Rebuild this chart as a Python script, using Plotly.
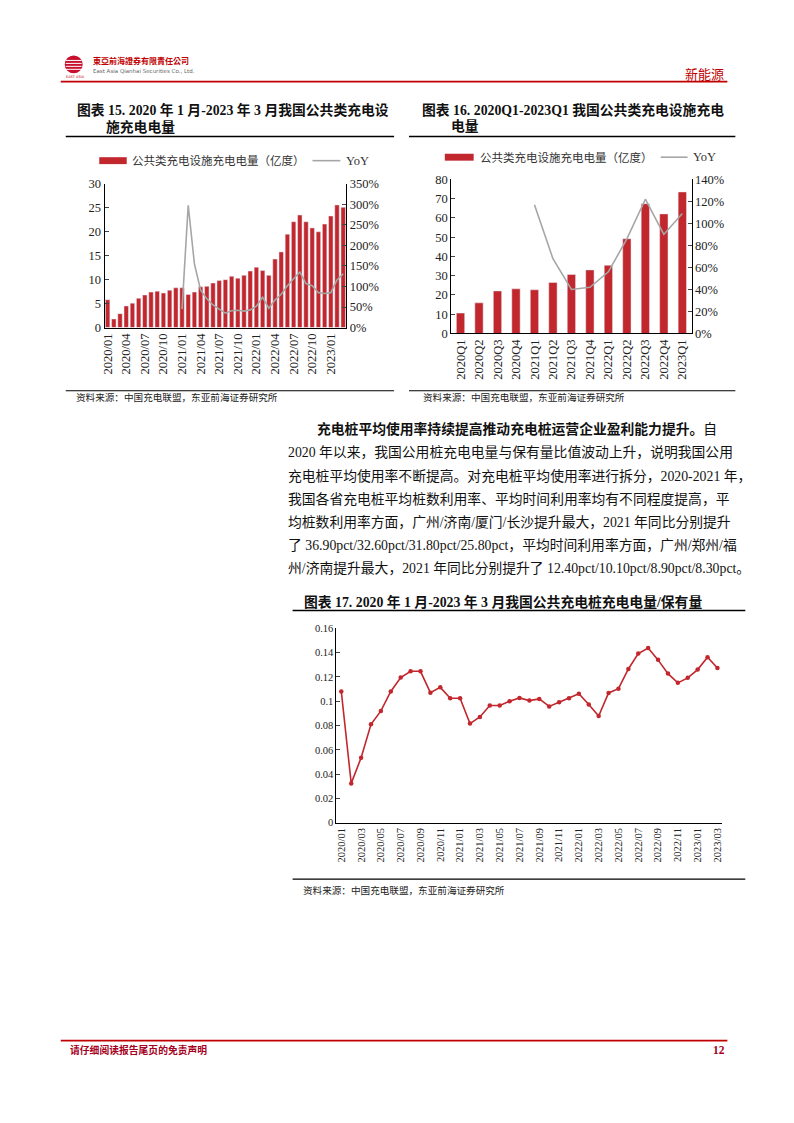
import plotly.graph_objects as go

# ---------------- data ----------------
months = ["2020/01","2020/02","2020/03","2020/04","2020/05","2020/06","2020/07","2020/08","2020/09","2020/10","2020/11","2020/12",
          "2021/01","2021/02","2021/03","2021/04","2021/05","2021/06","2021/07","2021/08","2021/09","2021/10","2021/11","2021/12",
          "2022/01","2022/02","2022/03","2022/04","2022/05","2022/06","2022/07","2022/08","2022/09","2022/10","2022/11","2022/12",
          "2023/01","2023/02","2023/03"]
charge_monthly = [5.8, 1.8, 2.9, 4.5, 5.1, 6.1, 6.8, 7.4, 7.6, 7.2, 7.8, 8.3,
                  8.3, 6.9, 7.4, 8.5, 8.6, 9.3, 9.8, 10.0, 10.7, 10.3, 10.9, 11.8,
                  12.6, 11.9, 10.9, 14.3, 15.8, 19.5, 22.1, 23.5, 22.1, 20.8, 20.0, 21.6,
                  23.3, 25.6, 25.1]
yoy_monthly = [None, None, None, None, None, None, None, None, None, None, None, None,
               45, 298, 155, 91, 70, 55, 45, 35, 41, 42, 40, 43,
               52, 74, 47, 67, 81, 102, 119, 135, 107, 102, 85, 83,
               85, 116, 131]
month_ticks15 = ["2020/01","2020/04","2020/07","2020/10","2021/01","2021/04","2021/07","2021/10",
                 "2022/01","2022/04","2022/07","2022/10","2023/01"]

quarters = ["2020Q1","2020Q2","2020Q3","2020Q4","2021Q1","2021Q2","2021Q3","2021Q4",
            "2022Q1","2022Q2","2022Q3","2022Q4","2023Q1"]
charge_quarterly = [10.6, 15.9, 22.1, 23.2, 22.7, 26.5, 30.6, 33.0, 35.4, 49.2, 67.4, 62.1, 73.5]
yoy_quarterly = [None, None, None, None, 117, 68, 40, 42, 56, 86, 122, 90, 109]

ratio_monthly = [0.108, 0.0324, 0.0535, 0.081, 0.092, 0.108, 0.1195, 0.1246, 0.1246, 0.107, 0.1114, 0.1024,
                 0.1024, 0.0816, 0.087, 0.0965, 0.0965, 0.100, 0.1027, 0.1005, 0.1019, 0.0957, 0.0992, 0.1024,
                 0.1062, 0.0973, 0.0878, 0.1068, 0.1103, 0.1265, 0.1392, 0.1438, 0.134, 0.1227, 0.1151, 0.1192,
                 0.126, 0.1362, 0.1273]
month_ticks17 = ["2020/01","2020/03","2020/05","2020/07","2020/09","2020/11","2021/01","2021/03","2021/05",
                 "2021/07","2021/09","2021/11","2022/01","2022/03","2022/05","2022/07","2022/09","2022/11",
                 "2023/01","2023/03"]
ratio_ticks = [0, 0.02, 0.04, 0.06, 0.08, 0.1, 0.12, 0.14, 0.16]
ratio_ticktext = ["0", "0.02", "0.04", "0.06", "0.08", "0.1", "0.12", "0.14", "0.16"]

paragraph = [
    "<b>充电桩平均使用率持续提高推动充电桩运营企业盈利能力提升。</b>自",
    "2020 年以来，我国公用桩充电电量与保有量比值波动上升，说明我国公用",
    "充电桩平均使用率不断提高。对充电桩平均使用率进行拆分，2020-2021 年，",
    "我国各省充电桩平均桩数利用率、平均时间利用率均有不同程度提高，平",
    "均桩数利用率方面，广州/济南/厦门/长沙提升最大，2021 年同比分别提升",
    "了 36.90pct/32.60pct/31.80pct/25.80pct，平均时间利用率方面，广州/郑州/福",
    "州/济南提升最大，2021 年同比分别提升了 12.40pct/10.10pct/8.90pct/8.30pct。",
]

# ---------------- style ----------------
W, H = 794, 1123
OFF = 8  # page body margin of the rendered html
RED = "#C1272D"
GRAY = "#A6A6A6"
HEAD_RED = "#C00000"
SERIF = "Liberation Serif, Noto Sans CJK SC, serif"
CJK = "Liberation Serif, Noto Sans CJK SC, sans-serif"


def px(x):
    return (x - OFF) / W


def py(y):
    return 1 - (y - OFF) / H


fig = go.Figure()

# chart 15
fig.add_trace(go.Bar(x=months, y=charge_monthly, marker_color=RED, width=0.72,
                     xaxis="x", yaxis="y", name="公共类充电设施充电电量（亿度）"))
fig.add_trace(go.Scatter(x=months, y=yoy_monthly, mode="lines", line=dict(color=GRAY, width=1.6),
                         xaxis="x", yaxis="y2", name="YoY", connectgaps=False))
# chart 16
fig.add_trace(go.Bar(x=quarters, y=charge_quarterly, marker_color=RED, width=0.45,
                     xaxis="x2", yaxis="y3", name="公共类充电设施充电电量（亿度）"))
fig.add_trace(go.Scatter(x=quarters, y=yoy_quarterly, mode="lines", line=dict(color=GRAY, width=1.6),
                         xaxis="x2", yaxis="y4", name="YoY"))
# chart 17
fig.add_trace(go.Scatter(x=months, y=ratio_monthly, mode="lines+markers",
                         line=dict(color=RED, width=1.6), marker=dict(color=RED, size=4.5),
                         xaxis="x3", yaxis="y5", name="充电电量/保有量"))

axis_common = dict(showgrid=False, zeroline=False, showline=True, linecolor="black", linewidth=1)
tickf = dict(family=SERIF, size=12.5, color="#222")
tickf17 = dict(family=SERIF, size=10.5, color="#222")

fig.update_layout(
    width=W, height=H, margin=dict(l=0, r=0, t=0, b=0),
    paper_bgcolor="white", plot_bgcolor="white", showlegend=False,
    xaxis=dict(domain=[px(101), px(344)], anchor="y", type="category", range=[-0.5, 38.5],
               tickmode="array", tickvals=month_ticks15, ticktext=month_ticks15, tickangle=-90,
               ticks="", tickfont=tickf, **axis_common),
    yaxis=dict(domain=[py(324.5), py(179)], anchor="x", range=[0, 30], dtick=5,
               ticks="inside", ticklen=4, tickfont=tickf, **axis_common),
    yaxis2=dict(overlaying="y", side="right", anchor="x", range=[0, 350], dtick=50, ticksuffix="%",
                ticks="inside", ticklen=4, tickfont=tickf, **axis_common),
    xaxis2=dict(domain=[px(449.5), px(691)], anchor="y3", type="category", range=[-0.5, 12.5],
                tickangle=-90, ticks="", tickfont=tickf, **axis_common),
    yaxis3=dict(domain=[py(330.5), py(174.5)], anchor="x2", range=[0, 80], dtick=10,
                ticks="inside", ticklen=4, tickfont=tickf, **axis_common),
    yaxis4=dict(overlaying="y3", side="right", anchor="x2", range=[0, 140], dtick=20, ticksuffix="%",
                ticks="inside", ticklen=4, tickfont=tickf, **axis_common),
    xaxis3=dict(domain=[px(334), px(722)], anchor="y5", type="category", range=[-0.5, 38.5],
                tickmode="array", tickvals=month_ticks17, ticktext=month_ticks17, tickangle=-90,
                ticks="", tickfont=tickf17, **axis_common),
    yaxis5=dict(domain=[py(826), py(629)], anchor="x3", range=[0, 0.16],
                tickmode="array", tickvals=ratio_ticks, ticktext=ratio_ticktext,
                ticks="inside", ticklen=4, tickfont=tickf17, **axis_common),
)

shapes = []
ann = []


def hline(x0, x1, y, color="black", width=1.2):
    shapes.append(dict(type="line", xref="paper", yref="paper", x0=px(x0), x1=px(x1),
                       y0=py(y), y1=py(y), line=dict(color=color, width=width)))


def text(x, y, s, size=12, color="#222", family=CJK, anchor="left"):
    ann.append(dict(x=px(x), y=py(y), xref="paper", yref="paper", text=s, showarrow=False,
                    xanchor=anchor, yanchor="middle", font=dict(size=size, color=color, family=family)))


# header
shapes.append(dict(type="circle", xref="paper", yref="paper", x0=px(61), x1=px(79), y0=py(49), y1=py(67),
                   fillcolor="#C8102E", line=dict(width=0)))
for yy in (54, 57, 60, 63):
    hline(62, 78, yy, color="white", width=1)
text(60, 71, "EAST ASIA", size=3.5, color=HEAD_RED, family="DejaVu Sans")
text(87, 54, "<b>東亞前海證券有限責任公司</b>", size=8, color=HEAD_RED, family="Noto Sans CJK TC")
text(87, 65, "East Asia Qianhai Securities Co., Ltd.", size=5.5, color="#666", family="DejaVu Sans")
text(726, 67, "新能源", size=13, color=HEAD_RED, family="Noto Sans CJK SC", anchor="right")
hline(57, 727, 75.5, color=HEAD_RED, width=1.8)

# titles
TS = 13.8
text(71, 104, "<b>图表 15. 2020 年 1 月-2023 年 3 月我国公共类充电设</b>", size=TS, color="#111")
text(100, 121, "<b>施充电电量</b>", size=TS, color="#111")
hline(62, 392, 131, width=1.5)
text(418, 104, "<b>图表 16. 2020Q1-2023Q1 我国公共类充电设施充电</b>", size=TS, color="#111")
text(447, 121, "<b>电量</b>", size=TS, color="#111")
hline(407, 735, 131, width=1.5)

# legends (manual)
shapes.append(dict(type="rect", xref="paper", yref="paper", x0=px(95.7), x1=px(123.3), y0=py(159), y1=py(152),
                   fillcolor=RED, line=dict(width=0)))
text(127, 155.5, "公共类充电设施充电电量（亿度）", size=11.5, color="#333")
hline(310, 338, 155.5, color=GRAY, width=1.6)
text(342, 155.5, "YoY", size=12.5, color="#333", family=SERIF)

shapes.append(dict(type="rect", xref="paper", yref="paper", x0=px(443), x1=px(472), y0=py(155.5), y1=py(148.5),
                   fillcolor=RED, line=dict(width=0)))
text(476, 152, "公共类充电设施充电电量（亿度）", size=11.5, color="#333")
hline(660, 687, 152, color=GRAY, width=1.6)
text(690, 152, "YoY", size=12.5, color="#333", family=SERIF)

# sources
SS = 9.6
hline(62, 392, 388.5, width=1.2)
text(70, 395.5, "资料来源：中国充电联盟，东亚前海证券研究所", size=SS, color="#222")
hline(407, 735, 388.5, width=1.2)
text(419, 395.5, "资料来源：中国充电联盟，东亚前海证券研究所", size=SS, color="#222")

# paragraph
line_y = [427, 451, 474.5, 498, 521.5, 545, 568.5]
for i, s in enumerate(paragraph):
    text(313 if i == 0 else 283, line_y[i], s, size=13.8, color="#111", family=CJK)

# chart 17 title & source
text(299, 602, "<b>图表 17. 2020 年 1 月-2023 年 3 月我国公共充电桩充电电量/保有量</b>", size=TS, color="#111")
hline(290, 745, 611, width=1.5)
hline(290, 745, 883, width=1.2)
text(298, 894.5, "资料来源：中国充电联盟，东亚前海证券研究所", size=SS, color="#222")

# footer
hline(57, 727, 1046.5, color=HEAD_RED, width=1.8)
text(64, 1056, "<b>请仔细阅读报告尾页的免责声明</b>", size=9.8, color="#A50021")
text(727, 1056, "<b>12</b>", size=11.5, color="#A50021", family=SERIF, anchor="right")

fig.update_layout(shapes=shapes, annotations=ann)
fig.write_html("out.html")
